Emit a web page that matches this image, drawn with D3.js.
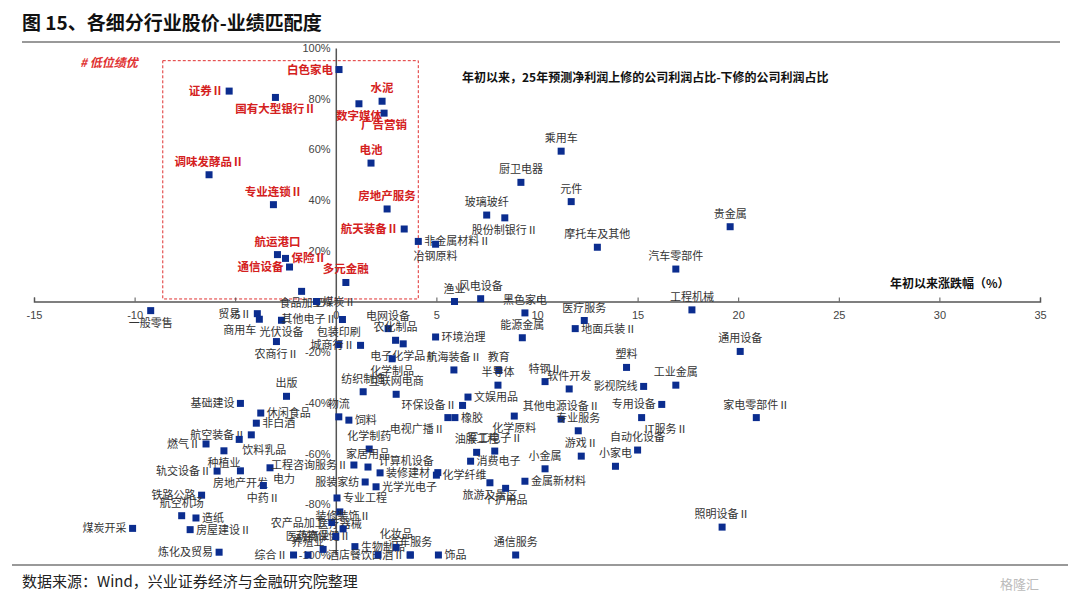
<!DOCTYPE html>
<html><head><meta charset="utf-8">
<script src="https://cdn.jsdelivr.net/npm/d3@7"></script>
<style>body{margin:0;background:#fff;font-family:"Noto Sans CJK SC","Noto Sans",sans-serif}</style>
</head><body><svg id="c" width="1080" height="600"></svg>
<script>
const xTicks=[-15,-10,-5,0,5,10,15,20,25,30,35];
const yTicks=[-100,-80,-60,-40,-20,0,20,40,60,80,100];
// highlighted (低位绩优) industries
const hiNames=["白色家电","证券Ⅱ","国有大型银行Ⅱ","数字媒体","水泥","广告营销","电池","调味发酵品Ⅱ","专业连锁Ⅱ","房地产服务","航天装备Ⅱ","航运港口","保险Ⅱ","通信设备","多元金融"];
const hiX=[0.16,-5.3,-3.0,1.15,2.3,2.4,1.75,-6.3,-3.1,2.55,3.4,-2.9,-2.5,-2.3,0.5];
const hiY=[91.5,83,80.5,78,79,74.3,54.6,50,38.2,36.5,28.6,18.5,17,13.6,7.5];
const hiPos=["l","l","b","b","t","b","t","t","t","t","l","t","r","l","t"];
// other industries
const names=["非金属材料Ⅱ","乘用车","厨卫电器","元件","玻璃玻纤","股份制银行Ⅱ","贵金属","冶钢原料","摩托车及其他","汽车零部件","渔业","风电设备","工程机械","黑色家电","医疗服务",
"能源金属","地面兵装Ⅱ","环境治理","通用设备","塑料","航海装备Ⅱ","教育","特钢Ⅱ","半导体","工业金属","影视院线","软件开发","文娱用品","环保设备Ⅱ","专用设备",
"电视广播Ⅱ","橡胶","化学原料","其他电源设备Ⅱ","专业服务","IT服务Ⅱ","家电零部件Ⅱ","油服工程","军工电子Ⅱ","计算机设备","化学纤维","消费电子","旅游及景区","个护用品","金属新材料",
"小金属","小家电","自动化设备","游戏Ⅱ","照明设备Ⅱ","通信服务","饰品","汽车服务",
"一般零售","贸易Ⅱ","商用车","光伏设备","其他电子Ⅱ","农商行Ⅱ","出版","基础建设","休闲食品","非白酒","航空装备Ⅱ","饮料乳品","燃气Ⅱ","种植业","轨交设备Ⅱ","房地产开发","电力",
"中药Ⅱ","铁路公路","航空机场","造纸","房屋建设Ⅱ","煤炭开采","炼化及贸易","综合Ⅱ","动物保健Ⅱ","食品加工","煤炭Ⅱ","包装印刷","电网设备","农化制品","电子化学品Ⅱ","城商行Ⅱ",
"化学制品","纺织制造","互联网电商","物流","饲料","化学制药","工程咨询服务Ⅱ","家居用品","装修建材","服装家纺","光学光电子","专业工程","医疗器械","养殖业","农产品加工",
"装修装饰Ⅱ","医药商业","生物制品","化妆品","白酒Ⅱ","酒店餐饮"];
const xs=[4.1,11.2,9.2,11.7,7.5,8.4,19.6,4.96,13.0,16.9,5.9,7.2,17.7,9.4,12.35,
9.27,11.9,4.96,20.1,14.45,5.87,8.1,10.4,8.06,16.9,15.3,11.6,6.57,6.3,16.2,
5.57,5.92,8.87,11.2,12.05,15.2,20.9,7.0,7.9,5.07,5.0,6.7,7.66,8.44,9.4,
10.4,13.9,15.0,12.2,19.2,8.94,5.1,3.7,
-9.2,-3.9,-3.8,-2.7,0.33,-2.95,-2.45,-4.74,-3.73,-3.95,-4.2,-4.8,-6.45,-5.56,-5.9,-4.74,-3.27,
-3.6,-6.67,-7.66,-6.95,-7.24,-10.1,-5.8,-2.1,-0.63,-1.7,-0.96,0.15,2.6,2.97,3.35,1.23,
2.8,1.36,3.0,0.15,0.65,1.66,0.9,1.6,2.2,1.46,2.0,0.06,0.2,-1.38,-0.2,
0.36,0.0,0.95,3.0,3.7,2.1];
const ys=[23.7,59.3,47,39.4,34.1,33,29.5,22.6,21.4,12.8,0,1.1,-3.3,-4.5,-7.5,
-14.3,-10.7,-14,-19.7,-26,-27,-27.2,-31.6,-33,-33,-33.5,-34.5,-37.7,-41,-40.6,
-45.8,-45.8,-45.2,-46.4,-51,-45.8,-45.8,-59.5,-59,-67.5,-68.5,-63,-71.5,-73.7,-70.9,
-66,-65,-58.6,-61,-89,-100,-100,-100,
-3.6,-4.8,-7,-7.4,-7.1,-15.8,-37.4,-40.2,-44,-48,-52.6,-54.4,-56.2,-58.9,-66.9,-66.8,-65.6,
-72.6,-76.4,-84.5,-85.4,-90,-89.5,-98.9,-100,-97.8,4,0,-17,-10.7,-15.3,-16.7,-17.3,
-22.6,-35.6,-36.6,-45.5,-46.8,-58.2,-64.5,-65.3,-67.6,-71.2,-73.1,-77.5,-83,-100,-87.2,
-89.7,-92.7,-96.7,-97,-100,-100];
const pos=["r","t","t","t","t","b","t","b","t","t","t","t","t","t","t",
"t","r","r","t","t","t","t","t","t","t","l","t","r","l","l",
"bl","r","b","t","t","br","t","t","t","tl","r","r","b","b","r",
"t","t","t","t","t","t","r","t",
"b","l","bl","b","l","b","t","l","r","r","l","br","l","b","l","b","br",
"b","l","t","r","r","l","l","l","t","b","r","t","t","t","b","l",
"b","t","t","t","r","t","l","t","r","l","r","r","b","t","l",
"t","l","r","t","l","l"];

const svg=d3.select("#c");
const x=d3.scaleLinear().domain([-15,35]).range([34,1040]);
const y=d3.scaleLinear().domain([-100,100]).range([555,48]);
const navy="#0b2d8f";

svg.append("text").attr("x",22).attr("y",30).attr("font-size",19).attr("font-weight","bold").attr("fill","#111").text("图 15、各细分行业股价-业绩匹配度");
svg.append("line").attr("x1",22).attr("x2",1060).attr("y1",42).attr("y2",42).attr("stroke","#777").attr("stroke-width",1.5);
svg.append("line").attr("x1",12).attr("x2",1068).attr("y1",565).attr("y2",565).attr("stroke","#777").attr("stroke-width",1.5);
svg.append("text").attr("x",22).attr("y",587).attr("font-size",15).attr("fill","#222").text("数据来源：Wind，兴业证券经济与金融研究院整理");
svg.append("text").attr("x",1000).attr("y",589).attr("font-size",13).attr("fill","#bbb").text("格隆汇");

svg.append("rect").attr("x",x(-8.6)).attr("y",y(95)).attr("width",x(4.1)-x(-8.6)).attr("height",y(1)-y(95))
 .attr("fill","none").attr("stroke","#e03030").attr("stroke-dasharray","3,2").attr("stroke-width",1);
svg.append("text").attr("x",80).attr("y",67).attr("font-size",12).attr("font-weight","bold").attr("font-style","italic").attr("fill","#e03030").text("# 低位绩优");

const xa=svg.append("g").attr("transform",`translate(0,${y(0)})`)
 .call(d3.axisBottom(x).tickValues(xTicks).tickSize(-4).tickFormat(d=>d));
xa.select(".domain").attr("stroke","#555").attr("stroke-width",1.5);
xa.selectAll(".tick line").attr("stroke","#555");
xa.selectAll("text").attr("font-size",11).attr("fill","#444").attr("dy","1.3em");
const ya=svg.append("g").attr("transform",`translate(${x(0)},0)`)
 .call(d3.axisLeft(y).tickValues(yTicks).tickSize(0).tickFormat(d=>d+"%"));
ya.select(".domain").attr("stroke","#555").attr("stroke-width",1.5);
ya.selectAll("text").attr("font-size",11).attr("fill","#444").attr("dx","-0.2em");

svg.append("text").attr("x",462).attr("y",82).attr("font-size",12).attr("font-weight","bold").attr("fill","#111").text("年初以来，25年预测净利润上修的公司利润占比-下修的公司利润占比");
svg.append("text").attr("x",890).attr("y",288).attr("font-size",12).attr("font-weight","bold").attr("fill","#111").text("年初以来涨跌幅（%）");

function place(sel,p){
  const o={t:[0,-9,"middle"],b:[0,16,"middle"],l:[-6,4,"end"],r:[6,4,"start"],tl:[-4,-8,"end"],bl:[-3,15,"end"],br:[3,15,"start"],tr:[4,-8,"start"]}[p];
  sel.attr("dx",o[0]).attr("dy",o[1]).attr("text-anchor",o[2]);
}
function draw(N,X,Y,P,col,bold){
  const g=svg.append("g");
  N.forEach((n,i)=>{
    const cx=x(X[i]),cy=y(Y[i]);
    g.append("rect").attr("x",cx-3.5).attr("y",cy-3.5).attr("width",7).attr("height",7).attr("fill",navy);
    const t=g.append("text").attr("x",cx).attr("y",cy).attr("font-size",bold?11.5:11).attr("fill",col)
      .attr("font-weight",bold?"bold":"normal").text(n);
    place(t,P[i]);
  });
}
draw(names,xs,ys,pos,"#333",false);
draw(hiNames,hiX,hiY,hiPos,"#d42020",true);
</script></body></html>
